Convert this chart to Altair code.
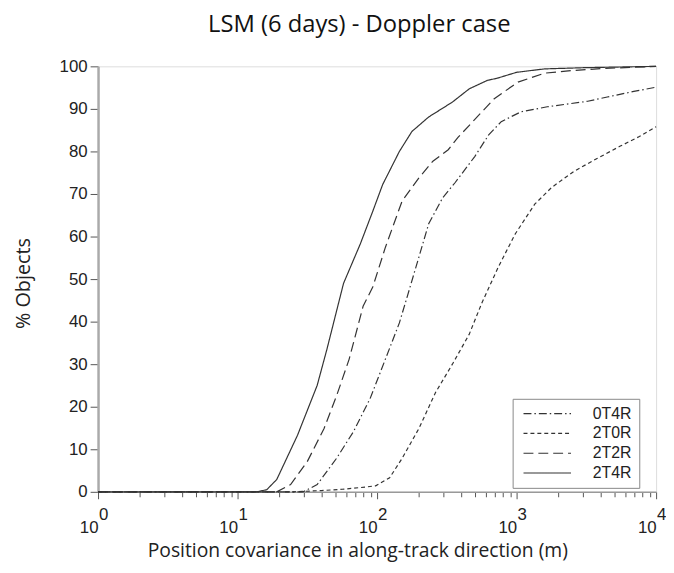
import altair as alt
import pandas as pd

# ---- data ----
series_names = ["0T4R", "2T0R", "2T2R", "2T4R"]

x_0T4R = [1, 29.5, 37.2, 51.3, 67.6, 89.1, 114.8, 144.5, 169.8, 199.5, 234.4, 295.1, 363.1, 501.2, 631.0, 776.2, 1072, 1660, 3236, 4467, 6918, 10000]
y_0T4R = [0, 0, 1.7, 7.9, 14.1, 21.9, 31.2, 39.7, 47.4, 55.2, 63.0, 69.1, 72.7, 78.8, 83.9, 87.0, 89.3, 90.5, 91.8, 92.8, 94.1, 95.1]

x_2T0R = [1, 25.1, 39.8, 56.2, 75.9, 97.7, 123, 151.4, 199.5, 263, 346.7, 457.1, 562.3, 741.3, 977.2, 1349, 1778, 2570, 3802, 5495, 7586, 10000]
y_2T0R = [0, 0, 0.3, 0.6, 1.0, 1.4, 3.3, 7.9, 14.9, 23.4, 30.0, 37.0, 44.3, 52.9, 60.6, 67.6, 71.5, 75.3, 78.4, 81.2, 83.5, 85.8]

x_2T2R = [1, 19.1, 24.0, 31.6, 41.7, 51.3, 63.1, 79.4, 93.3, 114.8, 151.4, 199.5, 251.2, 323.6, 380.2, 478.6, 691.8, 1023, 1585, 2455, 4169, 10000]
y_2T2R = [0, 0, 1.7, 7.1, 14.9, 22.6, 31.2, 43.6, 48.2, 57.5, 68.4, 73.8, 77.7, 80.4, 83.3, 86.8, 92.4, 96.3, 98.4, 99.0, 99.5, 100]

x_2T4R = [1, 13.8, 16.2, 19.1, 26.9, 37.2, 43.7, 57.5, 75.9, 93.3, 109.6, 144.5, 177.8, 234.4, 346.7, 457.1, 616.6, 724.4, 1000, 1585, 3162, 10000]
y_2T4R = [0, 0, 0.5, 2.9, 13.3, 25.0, 33.5, 49.0, 58.3, 66.0, 72.2, 80.0, 84.7, 88.1, 91.6, 94.7, 96.7, 97.2, 98.6, 99.4, 99.7, 100]

# tick values and labels
x_major = [1, 10, 100, 1000, 10000]
x_exponents = ["0", "1", "2", "3", "4"]
x_ticks = [1, 2, 3, 4, 5, 6, 7, 8, 9,
           10, 20, 30, 40, 50, 60, 70, 80, 90,
           100, 200, 300, 400, 500, 600, 700, 800, 900,
           1000, 2000, 3000, 4000, 5000, 6000, 7000, 8000, 9000,
           10000]
y_ticks = [0, 5, 10, 15, 20, 25, 30, 35, 40, 45, 50, 55, 60, 65, 70, 75, 80, 85, 90, 95, 100]

rows = []
for name, xs, ys in [("0T4R", x_0T4R, y_0T4R), ("2T0R", x_2T0R, y_2T0R),
                     ("2T2R", x_2T2R, y_2T2R), ("2T4R", x_2T4R, y_2T4R)]:
    for a, b in zip(xs, ys):
        rows.append({"series": name, "cov": a, "pct": b})
df = pd.DataFrame(rows)
exp_df = pd.DataFrame({"cov": x_major, "exp": x_exponents})

TICK_FONT = "Liberation Sans"
TITLE_FONT = "Open Sans"
INK = "#333333"

x_scale = alt.Scale(type="log", domain=[1, 10000], nice=False)
y_scale = alt.Scale(domain=[0, 100], nice=False, zero=False)

major_test = "indexof([1,10,100,1000,10000], datum.value) >= 0"

x_axis = alt.Axis(
    values=x_ticks,
    labelExpr=major_test + " ? '10' : ''",
    labelAlign="right",
    labelBaseline="alphabetic",
    labelPadding=34,
    labelFlush=False,
    labelOverlap=False,
    labelFont=TICK_FONT,
    labelFontSize=17,
    labelColor="#222222",
    tickSize={"condition": {"test": major_test, "value": 7}, "value": 5},
    tickColor="#555555",
    domainColor="#999999",
    domainWidth=1.5,
    grid=False,
    title="Position covariance in along-track direction (m)",
    titleFont=TITLE_FONT,
    titleFontSize=19.5,
    titleFontWeight="normal",
    titleColor="#222222",
    titleX=262,
    titleY=65,
    titleBaseline="alphabetic",
)

y_axis = alt.Axis(
    values=y_ticks,
    labelExpr="datum.value % 10 == 0 ? datum.label : ''",
    labelPadding=3,
    labelFont=TICK_FONT,
    labelFontSize=17,
    labelColor="#222222",
    labelOverlap=False,
    labelFlush=False,
    tickSize={"condition": {"test": "datum.value % 10 == 0", "value": 8}, "value": 5},
    tickColor="#555555",
    domainColor="#aaaaaa",
    domainWidth=2.5,
    grid=False,
    title="% Objects",
    titleFont=TITLE_FONT,
    titleFontSize=20,
    titleFontWeight="normal",
    titleColor="#222222",
    titleX=-69,
    titleY=219,
    titleBaseline="alphabetic",
)

legend = alt.Legend(
    orient="none",
    legendX=419,
    legendY=336,
    title=None,
    symbolType="M-1,0H11",
    symbolSize=64,
    symbolStrokeWidth=1.2,
    symbolStrokeColor=INK,
    labelOffset=58,
    labelFont=TICK_FONT,
    labelFontSize=16,
    labelColor="#222222",
    labelExpr="datum.label + '\u00a0\u00a0\u00a0'",
    padding=7,
    rowPadding=4,
    strokeColor="#888888",
    fillColor="white",
)

lines = alt.Chart(df).mark_line(color=INK, strokeWidth=1.2).encode(
    x=alt.X("cov:Q", scale=x_scale, axis=x_axis),
    y=alt.Y("pct:Q", scale=y_scale, axis=y_axis),
    strokeDash=alt.StrokeDash(
        "series:N",
        scale=alt.Scale(domain=series_names,
                        range=[[8, 3, 1.5, 3], [4, 3], [10, 5], [1, 0]]),
        legend=legend,
    ),
    order="cov:Q",
)

exps = alt.Chart(exp_df).mark_text(
    align="left", baseline="alphabetic", dx=1, dy=28,
    font=TICK_FONT, fontSize=17, color="#222222",
).encode(
    x=alt.X("cov:Q", scale=x_scale),
    y=alt.datum(0, scale=y_scale),
    text="exp:N",
)

chart = alt.layer(lines, exps).properties(
    width=564,
    height=430,
    title=alt.TitleParams(
        text="LSM (6 days) - Doppler case",
        font=TITLE_FONT,
        fontSize=24,
        fontWeight="normal",
        color="#111111",
        anchor="middle",
        frame="group",
        dx=-18,
        offset=21,
    ),
    autosize=alt.AutoSizeParams(type="none"),
    padding={"left": 91, "top": 56, "right": 10, "bottom": 72},
).configure_view(
    stroke="#999999",
    strokeWidth=1.2,
).configure(background="white")

chart.save("out.html", embed_options={"renderer": "svg", "actions": False})
